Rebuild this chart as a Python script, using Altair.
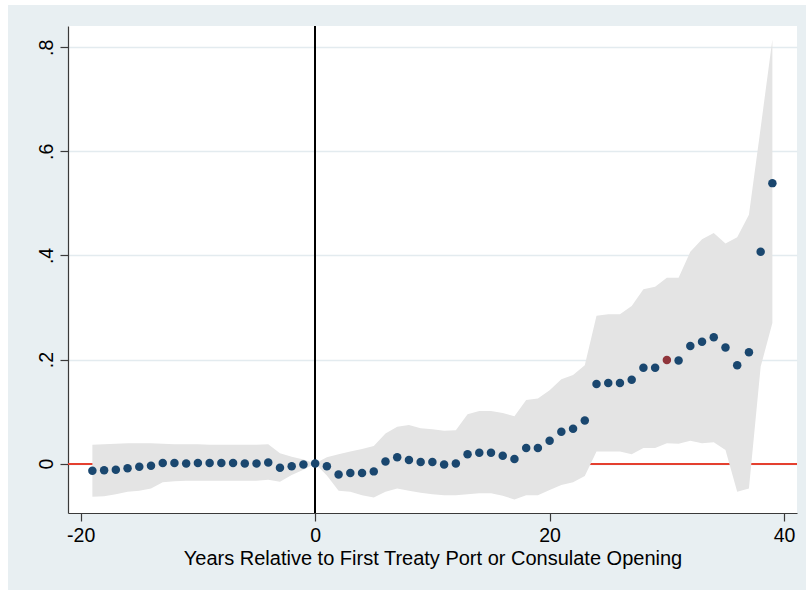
import altair as alt
import pandas as pd

# Event-time coefficients with 95% confidence bands
years = list(range(-19, 40))

coef = [
    -0.014, -0.013, -0.012, -0.009, -0.006, -0.004, 0.001, 0.001, 0.000, 0.001,
    0.001, 0.001, 0.001, 0.000, 0.000, 0.002, -0.008, -0.005, -0.002, 0.000,
    -0.005, -0.021, -0.018, -0.018, -0.015, 0.004, 0.012, 0.007, 0.003, 0.003,
    -0.002, 0.000, 0.018, 0.021, 0.021, 0.015, 0.009, 0.030, 0.030, 0.044,
    0.061, 0.067, 0.083, 0.153, 0.155, 0.155, 0.161, 0.184, 0.184, 0.199,
    0.198, 0.226, 0.234, 0.243, 0.223, 0.189, 0.214, 0.407, 0.539,
]

ci_upper = [
    0.036, 0.037, 0.038, 0.039, 0.039, 0.039, 0.038, 0.037, 0.037, 0.037,
    0.036, 0.036, 0.036, 0.036, 0.036, 0.037, 0.020, 0.013, 0.008, 0.000,
    0.012, 0.018, 0.023, 0.028, 0.034, 0.058, 0.071, 0.074, 0.068, 0.066,
    0.063, 0.064, 0.095, 0.101, 0.101, 0.097, 0.091, 0.122, 0.125, 0.141,
    0.162, 0.170, 0.189, 0.284, 0.287, 0.287, 0.303, 0.335, 0.340, 0.357,
    0.357, 0.407, 0.431, 0.443, 0.423, 0.435, 0.478, 0.645, 0.815,
]

ci_lower = [
    -0.064, -0.063, -0.059, -0.054, -0.052, -0.048, -0.036, -0.034, -0.033, -0.033,
    -0.033, -0.033, -0.033, -0.033, -0.033, -0.031, -0.035, -0.022, -0.012, 0.000,
    -0.023, -0.052, -0.054, -0.061, -0.065, -0.054, -0.048, -0.052, -0.056, -0.059,
    -0.061, -0.061, -0.059, -0.057, -0.057, -0.062, -0.069, -0.061, -0.061, -0.051,
    -0.041, -0.036, -0.024, 0.023, 0.023, 0.023, 0.018, 0.030, 0.030, 0.039,
    0.038, 0.044, 0.039, 0.041, 0.026, -0.054, -0.048, 0.186, 0.270,
]

highlight_year = 30

x_ticks = [-20, 0, 20, 40]
y_ticks = [0, 0.2, 0.4, 0.6, 0.8]

df = pd.DataFrame({"year": years, "coef": coef, "lo": ci_lower, "hi": ci_upper})
df["group"] = ["highlight" if y == highlight_year else "base" for y in years]

W, H = 729, 487
FONT = "Liberation Sans"
BG = "#e8eff2"

x_scale = alt.Scale(domain=[-21.08, 41.1], nice=False, zero=False)
y_scale = alt.Scale(domain=[-0.095, 0.841], nice=False, zero=False)

x_axis = alt.Axis(
    values=x_ticks,
    title="Years Relative to First Treaty Port or Consulate Opening",
    grid=False,
    tickSize=8,
    labelPadding=5,
    labelFontSize=19.5,
    labelExpr="datum.value < 0 ? '-' + abs(datum.value) : '' + datum.value",
    titleFontSize=20,
    titleFontWeight="normal",
    titleBaseline="alphabetic",
    titleY=51,
)
y_axis = alt.Axis(
    values=y_ticks,
    title=None,
    grid=True,
    gridColor="#e3ebef",
    gridWidth=1.5,
    tickSize=8,
    labelPadding=8,
    labelAngle=270,
    labelAlign="center",
    labelBaseline="alphabetic",
    labelFontSize=19.5,
    labelExpr="datum.value == 0 ? '0' : replace(format(datum.value, '.1f'), '0.', '.')",
)

base = alt.Chart(df)

# white margin strips along the outer edges of the graph region
edge = alt.Data(values=[{}])
strip_left = alt.Chart(edge).mark_rect(color="white").encode(
    x=alt.value(-68), x2=alt.value(-60), y=alt.value(-26), y2=alt.value(H + 77)
)
strip_top = alt.Chart(edge).mark_rect(color="white").encode(
    x=alt.value(-68), x2=alt.value(W + 9), y=alt.value(-26), y2=alt.value(-21)
)

zero_line = base.mark_rule(color="#e5412f", strokeWidth=1).encode(
    y=alt.datum(0, scale=y_scale)
)

band = base.mark_area(color="#e4e4e4", opacity=1).encode(
    x=alt.X("year:Q", scale=x_scale, axis=x_axis),
    y=alt.Y("lo:Q", scale=y_scale, axis=y_axis),
    y2="hi:Q",
)

event_line = base.mark_rule(color="black", strokeWidth=1.5).encode(
    x=alt.datum(0, scale=x_scale)
)

points = base.mark_circle(size=72, opacity=1).encode(
    x=alt.X("year:Q", scale=x_scale),
    y=alt.Y("coef:Q", scale=y_scale),
    color=alt.Color(
        "group:N",
        scale=alt.Scale(domain=["base", "highlight"], range=["#1a476f", "#90353b"]),
        legend=None,
    ),
)

chart = (
    alt.layer(zero_line, band, event_line, points, strip_left, strip_top)
    .properties(
        width=W,
        height=H,
        padding={"left": 68, "top": 26, "right": 9, "bottom": 77},
        autosize=alt.AutoSizeParams(type="none"),
        background=BG,
    )
    .configure_view(fill="white", stroke=None)
    .configure_axis(
        labelFont=FONT,
        titleFont=FONT,
        labelColor="black",
        titleColor="black",
        domainColor="#3a3a3a",
        tickColor="#3a3a3a",
        domainWidth=1.2,
        tickWidth=1.2,
    )
)

chart.save("out.html", embed_options={"renderer": "svg", "actions": False})
